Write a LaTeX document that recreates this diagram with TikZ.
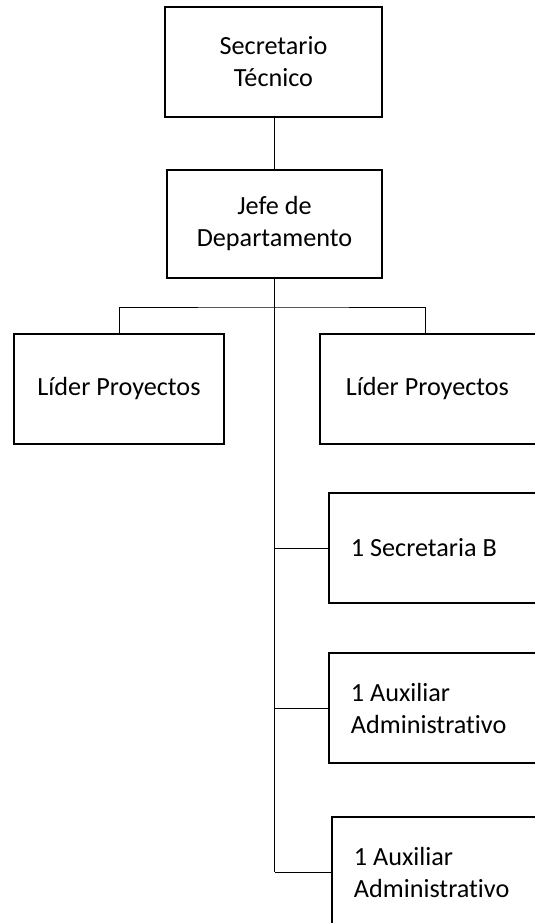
\documentclass[tikz,border=0pt]{standalone}
\usepackage{fontspec}
\setmainfont{Carlito}[Ligatures=CommonOff]
\usetikzlibrary{positioning}

\begin{document}
\begin{tikzpicture}[x=1pt,y=-1pt,line width=1pt]
  \tikzstyle{puesto}=[draw=black,line width=1.8pt,minimum height=110pt,align=center,font=\fontsize{26.2}{32}\selectfont]
  \tikzstyle{apoyo}=[puesto,anchor=west,text width=200pt,inner xsep=22pt,align=flush left]
  \useasboundingbox (0,0) rectangle (535,923);

  \node[puesto,minimum width=217pt]                    (sec)  at (273.5,62) {Secretario\\Técnico};
  \node[puesto,minimum width=215pt,minimum height=108pt] (jefe) at (274.5,224) {Jefe de\\Departamento};
  \node[puesto,minimum width=210pt]                    (lid1) at (119,389)   {Líder Proyectos};
  \node[apoyo,inner xsep=26pt]                         (lid2) at (319,389)   {Líder Proyectos};
  \node[apoyo]                                         (secb) at (328,548)   {1 Secretaria B};
  \node[apoyo]                                         (aux1) at (328,708)   {1 Auxiliar\\Administrativo};
  \node[apoyo]                                         (aux2) at (331,872)   {1 Auxiliar\\Administrativo};

  \coordinate (bar) at (274.5,307);

  \draw (jefe.north) -- (jefe.north |- sec.south);
  \draw (jefe.south) -- (jefe.south |- aux2.west);
  \draw (lid1.north) |- (bar) -| ([xshift=106pt]lid2.north west);
  \draw (jefe.south |- secb.west) -- (secb.west);
  \draw (jefe.south |- aux1.west) -- (aux1.west);
  \draw (jefe.south |- aux2.west) -- (aux2.west);
\end{tikzpicture}
\end{document}
